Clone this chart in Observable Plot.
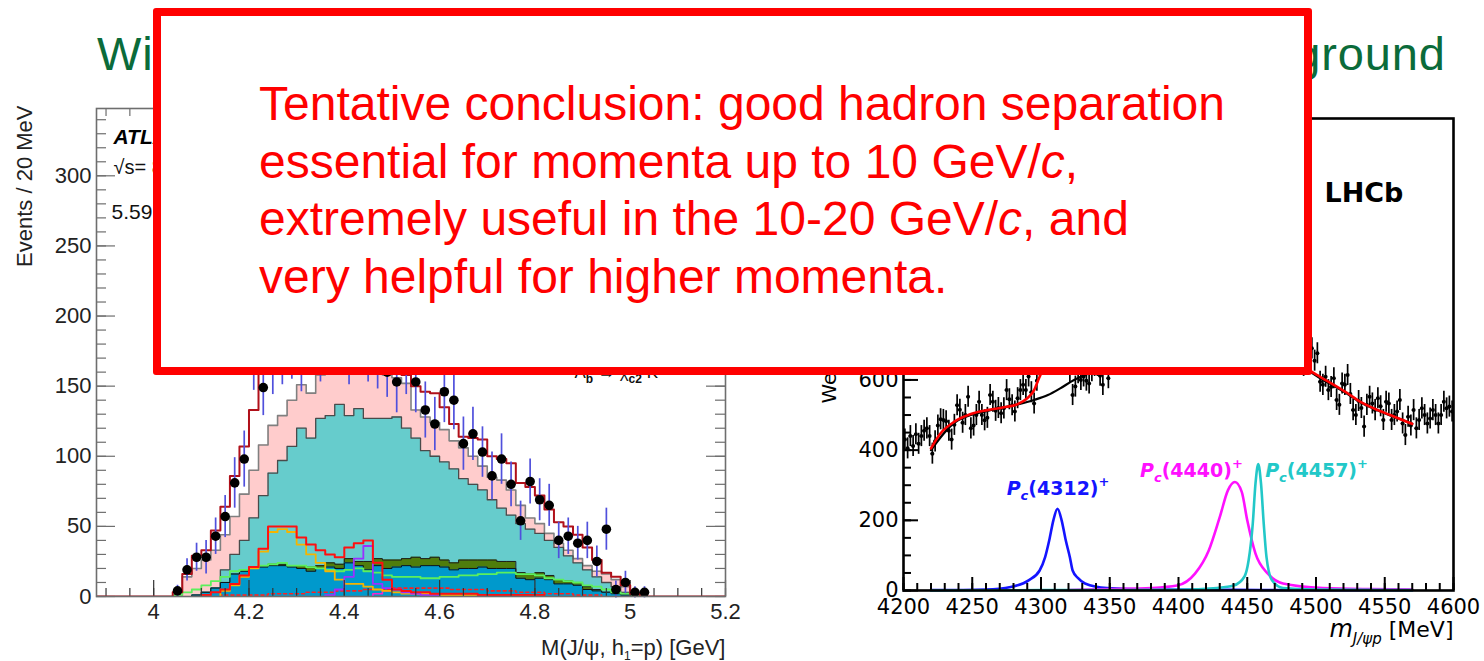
<!DOCTYPE html>
<html>
<head>
<meta charset="utf-8">
<script src="https://cdn.jsdelivr.net/npm/d3@7"></script>
<script src="https://cdn.jsdelivr.net/npm/@observablehq/plot@0.6"></script>
<style>
  html, body { margin: 0; padding: 0; background: #fff; }
  #page { position: relative; width: 1484px; height: 661px; overflow: hidden; background: #fff; }
  #page > * { position: absolute; }
  #atlas { left: 0; top: 0; }
  #lhcb { left: 760px; top: 0; }
  #title { left: 0; top: 0; }
  #note {
    left: 153px; top: 8px; width: 1159px; height: 367px; box-sizing: border-box;
    border: 8px solid #ff0000; border-radius: 3px; background: #fff;
    padding: 59px 0 0 98px; color: #ff0000;
    font: 48px/57.5px "Liberation Sans", Arial, sans-serif;
  }
  #note p { margin: 0; white-space: nowrap; }
</style>
</head>
<body>
<div id="page">
  <div id="atlas"></div>
  <div id="lhcb"></div>
  <svg id="title" width="1484" height="100">
    <text x="97" y="70" textLength="1348" lengthAdjust="spacing" font-family="'Liberation Sans', Arial, sans-serif" font-size="47" fill="#0b6b3a">Without hadron identification, signals drown in the background</text>
  </svg>
  <div id="note"><p>Tentative conclusion: good hadron separation<br>essential for momenta up to 10 GeV/<i>c</i>,<br>extremely useful in the 10-20 GeV/<i>c</i>, and<br>very helpful for higher momenta.</p></div>
</div>
<script>
// ---------------- ATLAS: M(J/psi, h1=p), 20 MeV bins (bin centres in GeV) ----------------
const atlasCenters = [4.05,4.07,4.09,4.11,4.13,4.15,4.17,4.19,4.21,4.23,
                      4.25,4.27,4.29,4.31,4.33,4.35,4.37,4.39,4.41,4.43,
                      4.45,4.47,4.49,4.51,4.53,4.55,4.57,4.59,4.61,4.63,
                      4.65,4.67,4.69,4.71,4.73,4.75,4.77,4.79,4.81,4.83,
                      4.85,4.87,4.89,4.91,4.93,4.95,4.97,4.99,5.01,5.03];
const atlasData = [4,19,28,28,43,57,81,98,172,149,
                   168,175,180,170,186,178,190,184,176,188,
                   178,172,160,153,168,153,133,123,146,140,
                   109,116,103,86,98,80,54,82,69,65,
                   40,43,38,40,25,48,5,10,3,3];
const atlasErr = [4,8,10,12,13,15,18,20,25,20,
                  24,24,25,24,25,25,26,25,25,25,
                  25,24,18,22,24,22,20,19,22,21,
                  19,19,18,17,18,16,14,16,15,15,
                  13,13,12,13,11,15,6,8,4,4];
// total fit
const atlasTotal = [3,16,29,33,47,64,86,107,133,165,
                    172,176,180,184,185,186,188,187,185,183,
                    180,176,168,162,158,150,146,145,135,123,
                    114,113,112,100,98,95,81,78,72,62,
                    53,50,44,35,26,17,14,8,2,0];
// stacked components (cumulative tops)
const atlasPink = [0,14,20,26,33,44,57,73,90,108,
                   122,129,140,151,145,158,163,168,164,168,
                   163,162,158,156,152,133,128,124,119,111,
                   106,100,93,85,83,76,65,56,52,45,
                   38,33,27,22,18,16,12,7,3,0];
const atlasTeal = [0,0,0,0,0,19,30,40,56,72,
                   88,97,107,120,113,127,129,137,129,134,
                   127,127,127,128,120,113,104,100,96,91,
                   84,80,76,69,63,58,52,48,45,40,
                   35,29,24,19,14,10,7,3,1,0];
const atlasOlive = [0,0,1,3,6,10,16,19,21,22,
                    23,23,22,22,21,22,24,23,27,25,
                    25,27,26,26,27,28,27,28,26,24,
                    26,26,26,26,25,25,17,16,17,15,
                    12,11,10,7,5,3,2,1,0,0];
const atlasBlue = [0,0,1,3,6,10,16,18,20,21,
                   22,22,21,20,18,20,21,20,24,22,
                   19,22,20,21,22,21,22,22,21,19,
                   20,20,21,20,20,20,13,12,13,12,
                   9,9,8,5,4,3,2,1,0,0];
// individual components drawn as lines
const atlasGreen = [1,3,5,8,11,14,18,19,21,22,
                    23,24,22,22,21,20,19,18,19,20,
                    18,17,15,14,14,14,13,13,14,14,
                    15,15,16,16,17,17,16,16,15,13,
                    12,11,10,8,7,5,3,2,1,0];
const atlasRed = [0,0,0,1,3,5,9,15,21,34,
                  50,50,50,42,37,33,30,28,35,38,
                  40,24,12,5,4,3,3,2,2,2,
                  2,2,1,1,1,1,1,1,1,0,
                  0,0,0,0,0,0,0,0,0,0];
const atlasOrange = [0,0,0,0,0,4,8,14,20,32,
                     46,48,46,37,30,24,18,12,9,9,
                     7,5,4,3,2,2,2,1,1,1,
                     1,1,1,1,1,0,0,0,0,0,
                     0,0,0,0,0,0,0,0,0,0];
const atlasPurple = [0,0,0,0,0,0,0,0,0,0,
                     0,0,0,0,0,0,1,5,14,27,
                     36,9,6,5,3,2,1,1,0,0,
                     0,0,0,0,0,0,0,0,0,0,
                     0,0,0,0,0,0,0,0,0,0];
const atlasMagenta = [0,0,0,0,0,0,0,0,0,0,
                      0,0,0,0,0,0,0,0,0,0,
                      0,2,4,5,4,2,1,0,0,0,
                      0,0,0,0,0,0,0,0,0,0,
                      0,0,0,0,0,0,0,0,0,0];
const atlasDotted = [0,0,0,0,0,1,1,1,1,1,
                     2,2,2,2,3,3,3,4,4,4,
                     5,5,5,6,6,6,6,6,6,5,
                     5,5,5,4,4,4,3,3,3,2,
                     2,2,1,1,1,0,0,0,0,0];
const atlasXTicks = [4, 4.2, 4.4, 4.6, 4.8, 5, 5.2];
const atlasYTicks = [0, 50, 100, 150, 200, 250, 300];

// ---------------- LHCb: m(J/psi p), 2 MeV bins ----------------
const lhcbMass = d3.range(4201, 4600, 2);
const lhcbCounts = [
  430,405,440,412,445,418,440,455,462,440,
  390,425,470,488,486,482,455,430,472,528,
  515,478,500,552,462,470,500,538,500,485,
  492,557,538,512,520,505,519,571,545,528,
  510,548,571,586,571,610,565,533,598,640,
  680,700,760,790,820,810,790,760,700,665,
  620,557,581,619,600,610,598,590,625,640,
  640,612,586,650,605,690,700,680,710,700,
  720,705,730,715,740,725,750,735,760,745,
  770,760,780,770,790,785,800,795,810,820,
  815,830,840,850,860,870,880,895,905,920,
  935,955,975,995,1015,1040,1060,1075,1085,1090,
  1080,1060,1040,1030,1050,1090,1150,1200,1210,1180,
  1100,1000,900,840,800,770,750,730,720,705,
  695,690,680,675,670,640,700,720,690,655,
  676,595,586,609,571,580,605,543,529,590,
  586,614,560,514,500,540,520,467,529,552,
  533,514,548,525,486,538,533,486,500,510,
  543,476,443,495,470,514,462,486,519,500,
  476,490,514,500,476,500,538,519,524,510];
const lhcbErr = 30;
const lhcbFitMass = [4220,4227,4237,4249,4261,4273,4283,4290,4295,4298,4302,4306,4309,4312,4315,4318,4322,4328,4335,4350,4380,4400,4420,4430,4436,4441,4446,4450,4454,4457,4460,4464,4468,4475,4485,4495,4503,4513,4523,4532,4545,4554,4568,4570];
const lhcbFitVal  = [405,448,481,503,514,522,531,548,571,600,640,720,790,810,790,720,670,650,645,660,720,770,860,960,1040,1070,1040,1050,1130,1180,1130,950,820,740,680,629,609,586,562,538,514,500,478,475];
const lhcbBkgMass = [4220,4237,4261,4283,4295,4305,4314,4324,4329,4340,4360,4400,4440,4470,4495,4503,4513,4523,4532,4545,4554,4570];
const lhcbBkgVal  = [400,478,512,530,543,557,576,600,609,628,660,700,720,700,625,605,583,560,537,513,499,475];
const pc4312Mass = [4220,4260,4278,4291,4299,4303,4306,4309,4312,4315,4318,4321,4323,4327,4332,4348,4380,4440,4500,4570];
const pc4312Val  = [1,3,10,29,57,95,143,200,233,200,143,95,57,35,20,7,3,2,1,1];
const pc4440Mass = [4320,4350,4380,4399,4412,4422,4430,4436,4441,4446,4450,4456,4465,4476,4505,4540,4570];
const pc4440Val  = [1,4,7,14,48,114,209,286,309,281,200,105,48,20,7,4,3];
const pc4457Mass = [4220,4300,4400,4428,4440,4448,4451,4454,4456,4458,4460,4462,4464,4468,4476,4500,4570];
const pc4457Val  = [0,1,2,7,14,40,86,190,305,360,305,190,95,29,7,3,1];
const pcNames = ["4312", "4440", "4457"];
const pcLabelMass = [4275, 4372, 4463];
const pcLabelHeight = [273, 323, 323];
const pcColors = ["#1414ff", "#ff10ff", "#22c8c8"];
const lhcbXTicks = [4200, 4250, 4300, 4350, 4400, 4450, 4500, 4550, 4600];
const lhcbYTicks = [0, 200, 400, 600, 800, 1000, 1200];

// ---------------- helpers ----------------
const binHalf = 0.01;
function stepPts(vals, extend) {
  let lo = 0, hi = vals.length - 1;
  while (lo <= hi && !vals[lo]) lo++;
  while (hi >= lo && !vals[hi]) hi--;
  const pts = [];
  if (extend) pts.push({x: extend[0], y: 0});
  pts.push({x: atlasCenters[lo] - binHalf, y: 0});
  for (let i = lo; i <= hi; i++) {
    pts.push({x: atlasCenters[i] - binHalf, y: vals[i]}, {x: atlasCenters[i] + binHalf, y: vals[i]});
  }
  pts.push({x: atlasCenters[hi] + binHalf, y: 0});
  if (extend) pts.push({x: extend[1], y: 0});
  return pts;
}
// explicit y1/y2 so that points sharing a bin edge are not stacked
const histArea = (vals, fill) => Plot.areaY(stepPts(vals), {x: "x", y1: 0, y2: "y", fill, clip: true});
const histLine = (vals, o) => Plot.line(stepPts(vals), {x: "x", y: "y", clip: true, ...o});
const pairs = (xs, ys) => xs.map((x, i) => ({x, y: ys[i]}));

// replace a plain text label with styled pieces (sub/superscripts, italics)
function rich(svg, content, parts) {
  d3.select(svg).selectAll("text")
    .filter(function () { return this.textContent === content; })
    .each(function () {
      const t = d3.select(this);
      t.text(null);
      for (const p of parts) {
        const s = t.append("tspan").text(p.t);
        if (p.dy) s.attr("dy", p.dy);
        if (p.size) s.attr("font-size", p.size);
        if (p.italic) s.attr("font-style", "italic");
        if (p.bold) s.attr("font-weight", "bold");
      }
    });
}

// ---------------- ATLAS panel ----------------
const A = {w: 760, h: 661, top: 108, right: 35, bottom: 65, left: 96};
const afw = A.w - A.left - A.right, afh = A.h - A.top - A.bottom;
const aGray = "#6e6e6e";
const atlasPts = atlasCenters.map((x, i) => ({x, y: atlasData[i], e: atlasErr[i]}));
const aYMinor = d3.range(0, 348, 10);
const aXMinor = d3.range(3.9, 5.2001, 0.05);
const sansA = "'Liberation Sans', Arial, Helvetica, sans-serif";

const atlas = Plot.plot({
  width: A.w, height: A.h,
  marginTop: A.top, marginRight: A.right, marginBottom: A.bottom, marginLeft: A.left,
  x: {domain: [3.88, 5.2]},
  y: {domain: [0, 348]},
  style: {fontFamily: sansA, fontSize: "22px", color: "#222", background: "transparent", overflow: "visible"},
  marks: [
    histArea(atlasPink, "#ffcccc"),
    histLine(atlasPink, {stroke: "#808080", strokeWidth: 1.6}),
    histArea(atlasTeal, "#66cccc"),
    histLine(atlasTeal, {stroke: "#4a4a4a", strokeWidth: 1.3}),
    histArea(atlasOlive, "#4f7d0c"),
    histLine(atlasOlive, {stroke: "#1c1c1c", strokeWidth: 1}),
    histArea(atlasBlue, "#0099cc"),
    histLine(atlasBlue, {stroke: "#111", strokeWidth: 1}),
    histLine(atlasGreen, {stroke: "#5cf05c", strokeWidth: 1.8}),
    histLine(atlasDotted, {stroke: "#ff2020", strokeWidth: 1.6, strokeDasharray: "3,3"}),
    histLine(atlasMagenta, {stroke: "#ff22cc", strokeWidth: 1.6}),
    histLine(atlasOrange, {stroke: "#f5b400", strokeWidth: 1.8}),
    histLine(atlasPurple, {stroke: "#9a30ff", strokeWidth: 1.8}),
    histLine(atlasRed, {stroke: "#ff1010", strokeWidth: 2}),
    // inward ticks on all four sides
    Plot.ruleY(aYMinor, {stroke: aGray, strokeWidth: 1.2, insetRight: afw - 10}),
    Plot.ruleY(atlasYTicks, {stroke: aGray, strokeWidth: 1.2, insetRight: afw - 19}),
    Plot.ruleY(aYMinor, {stroke: aGray, strokeWidth: 1.2, insetLeft: afw - 10}),
    Plot.ruleY(atlasYTicks, {stroke: aGray, strokeWidth: 1.2, insetLeft: afw - 19}),
    Plot.ruleX(aXMinor, {stroke: "#333", strokeWidth: 1.2, insetTop: afh - 8}),
    Plot.ruleX(atlasXTicks, {stroke: "#333", strokeWidth: 1.2, insetTop: afh - 16}),
    Plot.ruleX(aXMinor, {stroke: aGray, strokeWidth: 1.2, insetBottom: afh - 8}),
    Plot.ruleX(atlasXTicks, {stroke: aGray, strokeWidth: 1.2, insetBottom: afh - 16}),
    Plot.line(stepPts(atlasTotal, [3.88, 5.2]), {x: "x", y: "y", stroke: "#b0101a", strokeWidth: 2, clip: true}),
    Plot.ruleX(atlasPts, {x: "x", y1: d => d.y - d.e, y2: d => d.y + d.e, stroke: "#5050dc", strokeWidth: 1.7}),
    Plot.dot(atlasPts, {x: "x", y: "y", r: 4.8, fill: "#000"}),
    Plot.frame({stroke: aGray, strokeWidth: 1.6}),
    Plot.axisY({ticks: atlasYTicks, tickSize: 0, tickPadding: 5, label: null, fontSize: 22}),
    Plot.axisX({ticks: atlasXTicks, tickSize: 0, tickPadding: 7, label: null, fontSize: 22, tickFormat: d => String(d)}),
    Plot.text(["Events / 20 MeV"], {text: d => d, frameAnchor: "top-left", rotate: -90, textAnchor: "end", lineAnchor: "middle", dx: -72, dy: -3, fontSize: 22}),
    Plot.text(["M(J/ψ, h1=p) [GeV]"], {text: d => d, frameAnchor: "bottom-right", textAnchor: "end", lineAnchor: "bottom", dy: 58, fontSize: 22}),
    Plot.text(["ATLAS Internal"], {text: d => d, frameAnchor: "top-left", textAnchor: "start", lineAnchor: "bottom", dx: 17, dy: 35, fontSize: 21, fill: "#000"}),
    Plot.text(["√s= 8 TeV, 20 fb⁻¹"], {text: d => d, frameAnchor: "top-left", textAnchor: "start", lineAnchor: "bottom", dx: 17, dy: 65, fontSize: 20, fill: "#111"}),
    Plot.text(["5.59 < M < 5.65 GeV"], {text: d => d, frameAnchor: "top-left", textAnchor: "start", lineAnchor: "bottom", dx: 15, dy: 110, fontSize: 21, fill: "#111"}),
    Plot.text(["Λb → χc2 K"], {text: d => d, frameAnchor: "top-left", textAnchor: "start", lineAnchor: "bottom", dx: 478, dy: 269, fontSize: 17, fill: "#111"})
  ]
});
rich(atlas, "M(J/ψ, h1=p) [GeV]", [{t: "M(J/ψ, h"}, {t: "1", size: 12, dy: 5}, {t: "=p) [GeV]", dy: -5}]);
rich(atlas, "ATLAS Internal", [{t: "ATLAS", bold: true, italic: true}, {t: " Internal"}]);
rich(atlas, "Λb → χc2 K", [{t: "Λ"}, {t: "b", size: 12, dy: 5, bold: true}, {t: " → ", dy: -5}, {t: "χ"}, {t: "c2", size: 12, dy: 5, bold: true}, {t: " K", dy: -5}]);
document.getElementById("atlas").append(atlas);

// ---------------- LHCb panel ----------------
const L = {w: 724, h: 661, top: 118, right: 31, bottom: 71, left: 143};
const lfw = L.w - L.left - L.right, lfh = L.h - L.top - L.bottom;
const sansL = "'DejaVu Sans', Verdana, sans-serif";
const lhcbPts = lhcbMass.map((m, i) => ({m, v: lhcbCounts[i]}));
const pcLabelData = pcNames.map((n, i) => ({n, x: pcLabelMass[i], y: pcLabelHeight[i], c: pcColors[i]}));

const lhcb = Plot.plot({
  width: L.w, height: L.h,
  marginTop: L.top, marginRight: L.right, marginBottom: L.bottom, marginLeft: L.left,
  x: {domain: [4200, 4600]},
  y: {domain: [0, 1345]},
  style: {fontFamily: sansL, fontSize: "21px", color: "#000", background: "transparent", overflow: "visible"},
  marks: [
    Plot.ruleX(lhcbPts, {x: "m", y1: d => d.v - lhcbErr, y2: d => d.v + lhcbErr, stroke: "#000", strokeWidth: 1.7, clip: true}),
    Plot.ruleY(lhcbPts, {y: "v", x1: d => d.m - 1, x2: d => d.m + 1, stroke: "#000", strokeWidth: 1.6, clip: true}),
    Plot.dot(lhcbPts, {x: "m", y: "v", r: 2, fill: "#000", clip: true}),
    Plot.line(pairs(lhcbBkgMass, lhcbBkgVal), {x: "x", y: "y", stroke: "#000", strokeWidth: 2.2, curve: "monotone-x"}),
    Plot.line(pairs(lhcbFitMass, lhcbFitVal), {x: "x", y: "y", stroke: "#ff0000", strokeWidth: 2.6, curve: "monotone-x"}),
    Plot.line(pairs(pc4312Mass, pc4312Val), {x: "x", y: "y", stroke: pcColors[0], strokeWidth: 2.6, curve: "monotone-x"}),
    Plot.line(pairs(pc4440Mass, pc4440Val), {x: "x", y: "y", stroke: pcColors[1], strokeWidth: 2.6, curve: "monotone-x"}),
    Plot.line(pairs(pc4457Mass, pc4457Val), {x: "x", y: "y", stroke: pcColors[2], strokeWidth: 2.6, curve: "monotone-x"}),
    // inward ticks on the left and bottom axes
    Plot.ruleY(d3.range(0, 1345, 50), {stroke: "#000", strokeWidth: 2, insetRight: lfw - 8}),
    Plot.ruleY(lhcbYTicks, {stroke: "#000", strokeWidth: 2, insetRight: lfw - 15}),
    Plot.ruleX(d3.range(4200, 4601, 10), {stroke: "#000", strokeWidth: 2, insetTop: lfh - 7}),
    Plot.ruleX(lhcbXTicks, {stroke: "#000", strokeWidth: 2, insetTop: lfh - 13}),
    Plot.frame({stroke: "#000", strokeWidth: 2.6}),
    Plot.axisY({ticks: lhcbYTicks, tickSize: 0, tickPadding: 5, label: null, fontSize: 21}),
    Plot.axisX({ticks: lhcbXTicks, tickSize: 0, tickPadding: 9, label: null, fontSize: 21, tickFormat: d => String(d)}),
    Plot.text(pcLabelData, {x: "x", y: "y", text: d => `Pc(${d.n})+`, fill: d => d.c, textAnchor: "start", lineAnchor: "bottom", fontSize: 19, fontWeight: "bold"}),
    Plot.text(["LHCb"], {text: d => d, frameAnchor: "top-left", textAnchor: "start", lineAnchor: "bottom", dx: 421, dy: 83, fontSize: 27, fontWeight: "bold"}),
    Plot.text(["Weighted candidates/(2 MeV)"], {text: d => d, frameAnchor: "bottom-left", rotate: -90, textAnchor: "start", lineAnchor: "middle", dx: -74, dy: -187, fontSize: 20}),
    Plot.text(["m J/ψp [MeV]"], {text: d => d, frameAnchor: "bottom-right", textAnchor: "end", lineAnchor: "bottom", dy: 46, fontSize: 22})
  ]
});
for (const n of pcNames) {
  rich(lhcb, `Pc(${n})+`, [
    {t: "P", italic: true}, {t: "c", italic: true, size: 13, dy: 5}, {t: `(${n})`, dy: -5}, {t: "+", size: 13, dy: -9}
  ]);
}
rich(lhcb, "m J/ψp [MeV]", [{t: "m", italic: true, size: 24}, {t: "J/ψp", italic: true, size: 15, dy: 7}, {t: " [MeV]", dy: -7}]);
document.getElementById("lhcb").append(lhcb);
</script>
</body>
</html>
